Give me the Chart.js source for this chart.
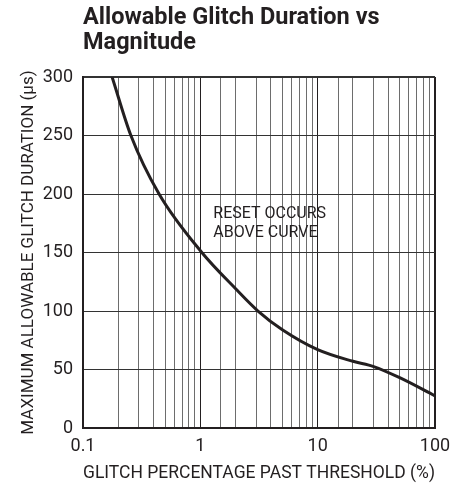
<!doctype html>
<html lang="en">
  <head>
    <meta charset="utf-8">
    <script src="https://cdn.jsdelivr.net/npm/chart.js@4/dist/chart.umd.min.js"></script>
    <title>Allowable Glitch Duration vs Magnitude</title>
    <style>
      * { margin: 0; padding: 0; }
      body { background: white; }
    </style>
  </head>
  <body>
    <canvas id="myChart" width="465" height="489"></canvas>
    <script>
    // glitch percentage past threshold (%)
    const glitchPct = [0.177, 0.256, 0.445, 1.03, 2, 3.1, 5, 10, 20, 30, 50, 100];
    // max allowable glitch duration (us)
    const duration = [300, 250, 200, 150, 119, 100, 84, 67, 57, 52.5, 43, 27.5];
    const xLabels = [0.1, 1, 10, 100];
    const noteLines = ['RESET OCCURS', 'ABOVE CURVE'];
    const noteX = 1.29;
    const noteY = [183, 167];

    const ink = '#231f20';
    const fam = 'Roboto, "Liberation Sans", sans-serif';

    const notePlugin = {
      id: 'note',
      afterDatasetsDraw(chart) {
        const ctx = chart.ctx;
        const x = chart.scales.x.getPixelForValue(noteX);
        ctx.save();
        ctx.fillStyle = ink;
        ctx.font = '16px ' + fam;
        ctx.textAlign = 'left';
        ctx.textBaseline = 'middle';
        noteLines.forEach((t, i) => ctx.fillText(t, x, chart.scales.y.getPixelForValue(noteY[i])));
        ctx.restore();
      }
    };

    new Chart(document.getElementById('myChart'), {
      type: 'line',
      data: {
        datasets: [{
          data: glitchPct.map((x, i) => ({x: x, y: duration[i]})),
          borderColor: ink,
          borderWidth: 3,
          pointRadius: 0,
          cubicInterpolationMode: 'monotone',
          fill: false
        }]
      },
      options: {
        responsive: false,
        animation: false,
        layout: { padding: { left: 0, right: 30, top: 0, bottom: 0 } },
        plugins: {
          legend: { display: false },
          tooltip: { enabled: false },
          title: {
            display: true,
            text: ['Allowable Glitch Duration vs', 'Magnitude'],
            align: 'start',
            fullSize: false,
            color: ink,
            font: { family: fam, size: 23.5, weight: 'bold', lineHeight: 1.064 },
            padding: { top: 5.5, bottom: 21.5 }
          }
        },
        scales: {
          x: {
            type: 'logarithmic',
            min: 0.1,
            max: 100,
            afterFit(scale) { scale.height = 61; },
            border: { color: ink, width: 2 },
            grid: {
              drawTicks: false,
              color: c => xLabels.includes(c.tick.value) ? ink : '#6d6d6d',
              lineWidth: c => c.tick.value === 100 ? 2 : 1
            },
            ticks: {
              autoSkip: false,
              maxRotation: 0,
              padding: 8,
              color: ink,
              font: { family: fam, size: 18 },
              callback: v => xLabels.includes(v) ? String(v) : ''
            },
            title: {
              display: true,
              text: 'GLITCH PERCENTAGE PAST THRESHOLD (%)',
              color: ink,
              font: { family: fam, size: 17.5 },
              padding: { top: 4, bottom: 4.5 }
            }
          },
          y: {
            min: 0,
            max: 300,
            afterFit(scale) { scale.width = 83; },
            border: { color: ink, width: 2 },
            grid: {
              drawTicks: false,
              color: '#333',
              lineWidth: c => c.tick.value === 300 ? 2 : 1
            },
            ticks: {
              stepSize: 50,
              padding: 10,
              color: ink,
              font: { family: fam, size: 18 }
            },
            title: {
              display: true,
              text: 'MAXIMUM ALLOWABLE GLITCH DURATION (µs)',
              color: ink,
              font: { family: fam, size: 17 },
              padding: { top: 19, bottom: 0 }
            }
          }
        }
      },
      plugins: [notePlugin]
    });
    </script>
  </body>
</html>
